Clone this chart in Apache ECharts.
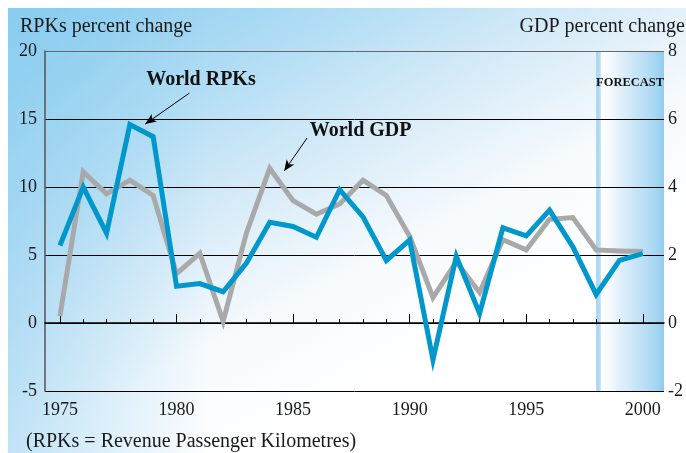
<!DOCTYPE html>
<html>
<head>
<meta charset="utf-8">
<script src="https://cdn.jsdelivr.net/npm/echarts@6/dist/echarts.min.js"></script>
<style>
  html, body { margin: 0; padding: 0; background: #fff; }
  #chart { width: 686px; height: 453px; }
</style>
</head>
<body>
<div id="chart"></div>
<script>
// year axis and the two series (percent change)
const years = [1975, 1976, 1977, 1978, 1979, 1980, 1981, 1982, 1983, 1984, 1985, 1986, 1987,
  1988, 1989, 1990, 1991, 1992, 1993, 1994, 1995, 1996, 1997, 1998, 1999, 2000]
const rpks = [5.7, 10.0, 6.6, 14.6, 13.7, 2.7, 2.9, 2.3, 4.4, 7.4, 7.1, 6.3, 9.8,
  7.8, 4.6, 6.1, -2.7, 4.9, 0.7, 7.0, 6.4, 8.3, 5.6, 2.1, 4.6, 5.1]
const gdp = [0.2, 4.45, 3.8, 4.2, 3.75, 1.45, 2.05, 0.05, 2.65, 4.55, 3.6, 3.2, 3.5,
  4.2, 3.75, 2.55, 0.75, 1.8, 0.9, 2.45, 2.15, 3.05, 3.1, 2.15, 2.12, 2.1]
const majorYears = [1975, 1980, 1985, 1990, 1995, 2000]
const forecastFrom = 1998

const serif = 'Liberation Serif'
const xMin = 1974.36
const xMax = 2000.91

let myChart = echarts.init(document.getElementById('chart'))

let option = {
  animation: false,
  graphic: [
    {
      type: 'rect',
      z: -10,
      shape: { x: 8, y: 8, width: 678, height: 445 },
      style: {
        fill: new echarts.graphic.LinearGradient(0, 0, 0.35, 1, [
          { offset: 0, color: '#86cbee' },
          { offset: 0.35, color: '#b6dff5' },
          { offset: 0.55, color: '#d7ebf8' },
          { offset: 0.78, color: '#f6fafd' },
          { offset: 1, color: '#ffffff' }
        ])
      }
    },
    {
      type: 'rect',
      z: -9,
      shape: { x: 8, y: 8, width: 200, height: 445 },
      style: {
        fill: new echarts.graphic.LinearGradient(0, 0, 1, 0, [
          { offset: 0, color: 'rgba(140,205,240,0.5)' },
          { offset: 1, color: 'rgba(140,205,240,0)' }
        ])
      }
    }
  ],
  title: [
    {
      text: 'RPKs percent change',
      left: 20,
      top: 17,
      padding: 0,
      textStyle: { fontFamily: serif, fontSize: 20, fontWeight: 'normal', color: '#1a1a1a' }
    },
    {
      text: 'GDP percent change',
      right: 1,
      top: 17,
      padding: 0,
      textStyle: { fontFamily: serif, fontSize: 20, fontWeight: 'normal', color: '#1a1a1a' }
    },
    {
      text: '(RPKs = Revenue Passenger Kilometres)',
      left: 26,
      top: 432,
      padding: 0,
      textStyle: { fontFamily: serif, fontSize: 20, fontWeight: 'normal', color: '#1a1a1a' }
    }
  ],
  grid: {
    left: 45,
    right: 17,
    top: 51,
    bottom: 62,
    containLabel: false
  },
  xAxis: [
    {
      type: 'value',
      min: xMin,
      max: xMax,
      z: 2,
      axisLine: { lineStyle: { color: '#000', width: 1.5 } },
      axisTick: { inside: true, length: 9, customValues: majorYears, lineStyle: { color: '#000' } },
      axisLabel: {
        customValues: majorYears,
        formatter: (v) => String(v),
        margin: 10,
        fontFamily: serif,
        fontSize: 18,
        color: '#1a1a1a'
      },
      splitLine: { show: false }
    },
    {
      type: 'value',
      position: 'bottom',
      min: xMin,
      max: xMax,
      z: 2,
      axisLine: { show: false },
      axisTick: { inside: true, length: 4, customValues: years, lineStyle: { color: '#000' } },
      axisLabel: { show: false },
      splitLine: { show: false }
    }
  ],
  yAxis: [
    {
      type: 'value',
      min: -5,
      max: 20,
      interval: 5,
      z: 2,
      axisLine: { show: true, lineStyle: { color: '#555', width: 1.5 } },
      axisTick: { show: false },
      axisLabel: { margin: 8, fontFamily: serif, fontSize: 18, color: '#1a1a1a' },
      splitLine: {
        lineStyle: { color: ['#000', '#000', '#000', '#000', '#000', '#666'], width: 1 }
      }
    },
    {
      type: 'value',
      min: -2,
      max: 8,
      interval: 2,
      z: 2,
      axisLine: { show: false },
      axisTick: { show: false },
      axisLabel: { margin: 4, fontFamily: serif, fontSize: 18, color: '#1a1a1a' },
      splitLine: { show: false }
    }
  ],
  series: [
    {
      name: 'forecast',
      type: 'line',
      data: [],
      silent: true,
      markArea: {
        silent: true,
        z: 1,
        itemStyle: {
          color: new echarts.graphic.LinearGradient(0, 0, 1, 0, [
            { offset: 0, color: '#9fd3f2' },
            { offset: 0.06, color: '#b9e0f6' },
            { offset: 0.08, color: '#ffffff' },
            { offset: 0.18, color: '#f8fbfe' },
            { offset: 0.35, color: '#e0f0fa' },
            { offset: 0.6, color: '#c6e4f7' },
            { offset: 0.85, color: '#aad8f3' },
            { offset: 1, color: '#8fcdf0' }
          ])
        },
        label: {
          show: true,
          position: 'insideTop',
          distance: 25,
          fontFamily: serif,
          fontWeight: 'bold',
          fontSize: 12.5,
          color: '#111'
        },
        data: [[{ xAxis: forecastFrom, name: 'FORECAST' }, { xAxis: xMax }]]
      }
    },
    {
      name: 'World GDP',
      type: 'line',
      yAxisIndex: 1,
      z: 3,
      data: years.map((y, i) => [y, gdp[i]]),
      showSymbol: false,
      symbol: 'none',
      lineStyle: { color: '#a9a9a9', width: 5, join: 'miter' }
    },
    {
      name: 'World RPKs',
      type: 'line',
      yAxisIndex: 0,
      z: 4,
      data: years.map((y, i) => [y, rpks[i]]),
      showSymbol: false,
      symbol: 'none',
      lineStyle: { color: '#0097cc', width: 5, join: 'miter' },
      markLine: {
        silent: true,
        symbol: ['none', 'arrow'],
        symbolSize: [7, 11],
        lineStyle: { color: '#000', width: 1, type: 'solid' },
        label: { show: false },
        data: [
          [{ coord: [1980.55, 16.9] }, { coord: [1978.66, 14.63] }],
          [{ coord: [1985.6, 13.6] }, { coord: [1984.62, 11.18] }]
        ]
      },
      markPoint: {
        silent: true,
        symbol: 'circle',
        symbolSize: 1,
        itemStyle: { color: 'rgba(0,0,0,0)' },
        label: {
          show: true,
          position: 'inside',
          formatter: '{b}',
          fontFamily: serif,
          fontWeight: 'bold',
          fontSize: 20,
          color: '#111'
        },
        data: [
          { name: 'World RPKs', coord: [1981.05, 17.9] },
          { name: 'World GDP', coord: [1987.9, 14.1] }
        ]
      }
    }
  ]
}

myChart.setOption(option)
</script>
</body>
</html>
